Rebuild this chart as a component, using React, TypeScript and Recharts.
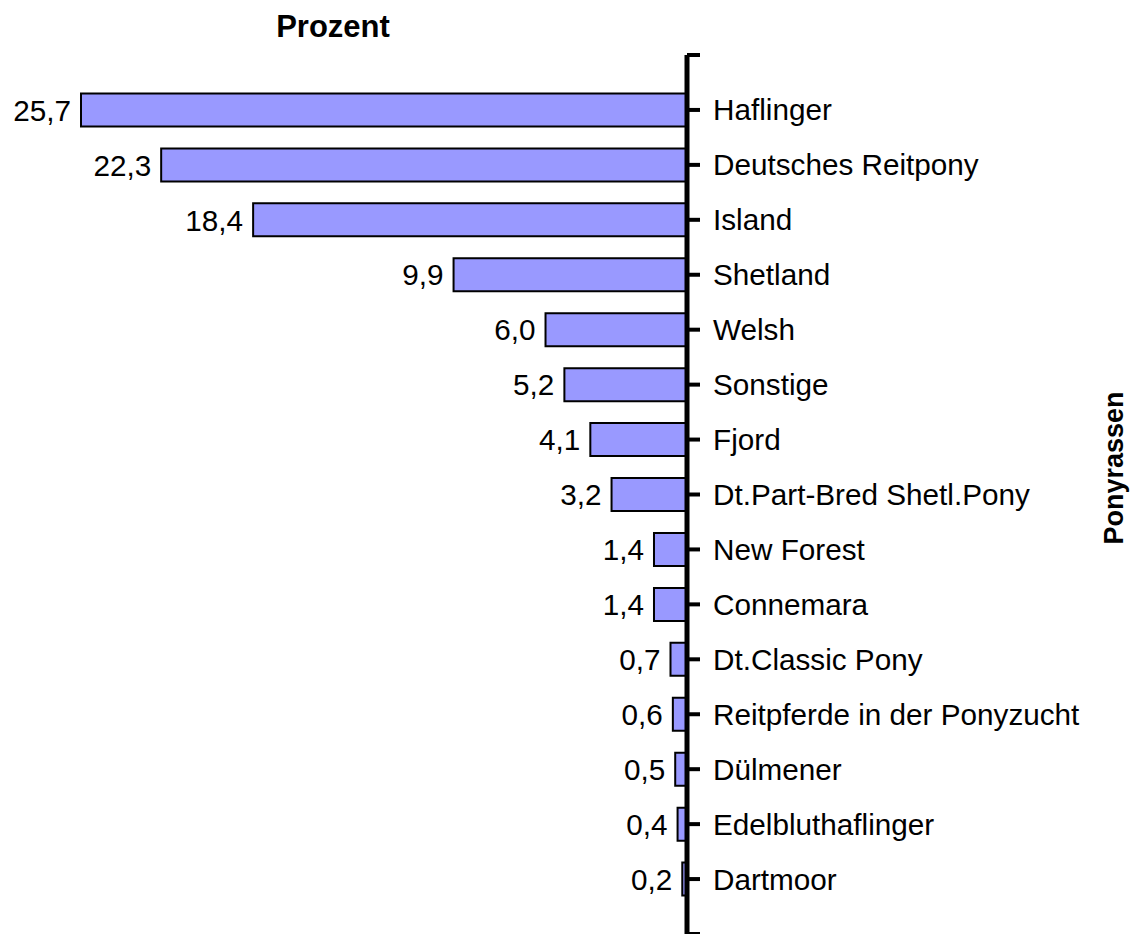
import React from 'react';
import { BarChart, Bar, XAxis, YAxis, LabelList, Customized } from 'recharts';

const breeds = [
  'Haflinger',
  'Deutsches Reitpony',
  'Island',
  'Shetland',
  'Welsh',
  'Sonstige',
  'Fjord',
  'Dt.Part-Bred Shetl.Pony',
  'New Forest',
  'Connemara',
  'Dt.Classic Pony',
  'Reitpferde in der Ponyzucht',
  'Dülmener',
  'Edelbluthaflinger',
  'Dartmoor',
];
const shares = [25.7, 22.3, 18.4, 9.9, 6.0, 5.2, 4.1, 3.2, 1.4, 1.4, 0.7, 0.6, 0.5, 0.4, 0.2];
const xTitle = 'Prozent';
const yTitle = 'Ponyrassen';

const data = breeds.map((name, i) => ({ name, pos: i + 1, value: shares[i] }));
const tickPositions = Array.from({ length: breeds.length + 2 }, (_, i) => i);

const FONT = '"Liberation Sans", Arial, Helvetica, sans-serif';

const fmt = (v: number) => v.toFixed(1).replace('.', ',');

const ValueLabel = (props: any) => {
  const { x, y, width, height, value } = props;
  const left = Math.min(x, x + width);
  return (
    <text
      x={left - 10}
      y={y + height / 2}
      dy="0.36em"
      textAnchor="end"
      fill="#000"
      fontSize={29.7}
      fontFamily={FONT}
    >
      {fmt(Number(value))}
    </text>
  );
};

const Titles = () => (
  <g>
    <text x={333} y={37} textAnchor="middle" fontWeight="bold" fontSize={31} fontFamily={FONT} fill="#000">
      {xTitle}
    </text>
    <text
      x={0}
      y={0}
      transform="translate(1123, 468) rotate(-90)"
      textAnchor="middle"
      fontWeight="bold"
      fontSize={27}
      fontFamily={FONT}
      fill="#000"
    >
      {yTitle}
    </text>
  </g>
);

export default function App() {
  return (
    <div style={{ position: 'absolute', left: 0, top: 0, width: 1135, height: 934, background: '#fff' }}>
      <BarChart
        width={1135}
        height={934}
        data={data}
        layout="vertical"
        margin={{ top: 55, right: 0, bottom: 0, left: 81 }}
      >
        <XAxis type="number" dataKey="value" hide reversed domain={[0, 'dataMax']} />
        <YAxis
          type="number"
          dataKey="pos"
          orientation="right"
          width={448}
          domain={[0, breeds.length + 1]}
          ticks={tickPositions}
          interval={0}
          allowDecimals={false}
          tickFormatter={(v: number) => breeds[v - 1] ?? ''}
          axisLine={{ stroke: '#000', strokeWidth: 5 }}
          tickLine={{ stroke: '#000', strokeWidth: 4 }}
          tickSize={13}
          tickMargin={13}
          tick={{ fill: '#000', fontSize: 29.7, fontFamily: FONT }}
        />
        <Bar
          dataKey="value"
          fill="#9999FF"
          stroke="#000"
          strokeWidth={2}
          barSize={33}
          isAnimationActive={false}
        >
          <LabelList dataKey="value" content={ValueLabel} />
        </Bar>
        <Customized component={Titles} />
      </BarChart>
    </div>
  );
}
